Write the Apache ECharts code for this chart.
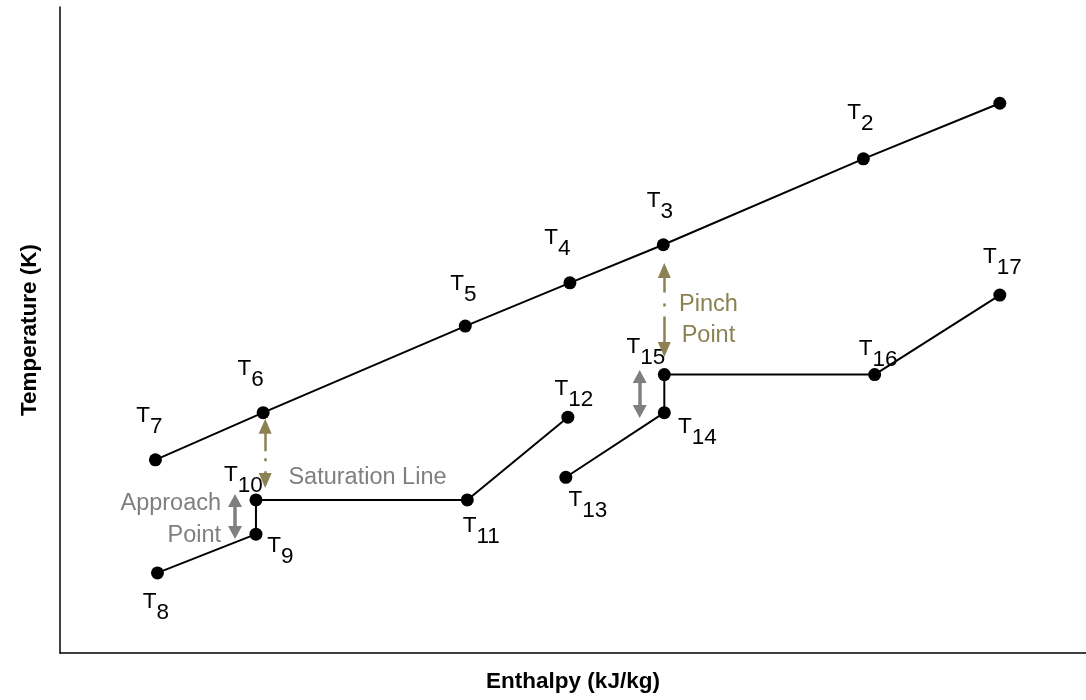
<!DOCTYPE html>
<html>
<head>
<meta charset="utf-8">
<script src="https://cdn.jsdelivr.net/npm/echarts@6/dist/echarts.min.js"></script>
<style>
  html, body { margin: 0; padding: 0; background: #fff; }
  #chart { width: 1086px; height: 700px; }
</style>
</head>
<body>
<div id="chart"></div>
<script>
// ---- data (enthalpy, temperature in relative units) ----
// hot stream: T7 -> T1
const hotX = [9.3, 19.8, 39.5, 49.7, 58.8, 78.3, 91.6];
const hotY = [29.9, 37.2, 50.6, 57.3, 63.2, 76.5, 85.1];
const hotSub = ['7', '6', '5', '4', '3', '2', ''];
// cold stream part 1: T8 -> T12
const cold1X = [9.5, 19.1, 19.1, 39.7, 49.5];
const cold1Y = [12.4, 18.4, 23.7, 23.7, 36.5];
const cold1Sub = ['8', '9', '10', '11', '12'];
// cold stream part 2: T13 -> T17
const cold2X = [49.3, 58.9, 58.9, 79.4, 91.6];
const cold2Y = [27.2, 37.2, 43.1, 43.1, 55.4];
const cold2Sub = ['13', '14', '15', '16', '17'];
// annotation arrows (x, yFrom, yTo)
const pinchArrow = [58.9, 59.2, 47.0];
const satArrow = [20.0, 35.1, 26.7];
const approachArrow = [17.06, 23.6, 18.65];
const approach2Arrow = [56.5, 42.8, 37.4];
// annotation texts
const satText = { text: 'Saturation Line', x: 29.97, y: 27.1 };
const pinchText = { text: 'Pinch\nPoint', x: 63.2, y: 51.5 };
const approachText = { text: 'Approach\nPoint', x: 15.7, y: 20.7 };

// ---- label placement (pixels) ----
const labelOffsets = {
  '2': [-3, -40.5], '3': [-3.5, -38.5], '4': [-12.5, -40], '5': [-2, -37],
  '6': [-12.5, -38.5], '7': [-6, -38.5], '8': [-1.5, 34.5], '9': [24.5, 17.5],
  '10': [-12.5, -19.5], '11': [14, 31.5], '12': [6, -22.5], '13': [22, 28.5],
  '14': [33, 19.5], '15': [-18.5, -22.5], '16': [3.5, -20.5], '17': [2.5, -32.5]
};

const FONT = 'Liberation Sans, Arial, sans-serif';
const OLIVE = '#8B8153';
const GRAY = '#7F7F7F';

function buildData(xs, ys, subs) {
  return xs.map((x, i) => {
    const s = subs[i];
    const item = { value: [x, ys[i]] };
    if (s) {
      item.label = {
        show: true,
        position: 'inside',
        offset: labelOffsets[s],
        formatter: '{a|T}{b|' + s + '}'
      };
    } else {
      item.label = { show: false };
    }
    return item;
  });
}

const richStyle = {
  a: { fontFamily: FONT, fontSize: 22.5, color: '#000', lineHeight: 23, verticalAlign: 'top' },
  b: { fontFamily: FONT, fontSize: 22.5, color: '#000', lineHeight: 34, verticalAlign: 'bottom' }
};

function lineSeries(name, xs, ys, subs) {
  return {
    name: name,
    type: 'line',
    data: buildData(xs, ys, subs),
    symbol: 'circle',
    symbolSize: 13,
    itemStyle: { color: '#000' },
    lineStyle: { color: '#000', width: 2 },
    label: { show: false, rich: richStyle, align: 'center', verticalAlign: 'middle' },
    emphasis: { disabled: true },
    silent: true,
    z: 3
  };
}

function arrowItem(a, color, width, dash, size) {
  return [
    { coord: [a[0], a[1]], symbol: 'triangle', symbolSize: size,
      lineStyle: { color: color, width: width, type: dash }, itemStyle: { color: color } },
    { coord: [a[0], a[2]], symbol: 'triangle', symbolSize: size, itemStyle: { color: color } }
  ];
}

const chart = echarts.init(document.getElementById('chart'), null, { renderer: 'canvas' });
const option = {
  animation: false,
  backgroundColor: '#fff',
  grid: { left: 60, right: 0, top: 7, bottom: 47, containLabel: false },
  xAxis: {
    type: 'value', min: 0, max: 100,
    name: 'Enthalpy (kJ/kg)', nameLocation: 'middle', nameGap: 17,
    nameTextStyle: { fontFamily: FONT, fontSize: 22.5, fontWeight: 'bold', color: '#000' },
    axisLine: { show: true, lineStyle: { color: '#000', width: 1.5 } },
    axisTick: { show: false }, axisLabel: { show: false }, splitLine: { show: false }
  },
  yAxis: {
    type: 'value', min: 0, max: 100,
    name: 'Temperature (K)', nameLocation: 'middle', nameGap: 19, nameRotate: 90,
    nameTextStyle: { fontFamily: FONT, fontSize: 22.5, fontWeight: 'bold', color: '#000' },
    axisLine: { show: true, lineStyle: { color: '#000', width: 1.5 } },
    axisTick: { show: false }, axisLabel: { show: false }, splitLine: { show: false }
  },
  series: [
    lineSeries('hot', hotX, hotY, hotSub),
    lineSeries('cold1', cold1X, cold1Y, cold1Sub),
    lineSeries('cold2', cold2X, cold2Y, cold2Sub),
    {
      name: 'annotations',
      type: 'line',
      data: [],
      silent: true,
      markLine: {
        silent: true,
        animation: false,
        label: { show: false },
        emphasis: { disabled: true },
        data: [
          arrowItem(pinchArrow, OLIVE, 2.5, [22, 11, 3, 10, 40, 10], [13, 15]),
          arrowItem(satArrow, OLIVE, 2.5, [25, 7, 3, 10, 40, 10], [13, 15]),
          arrowItem(approachArrow, GRAY, 3.5, 'solid', [14, 13]),
          arrowItem(approach2Arrow, GRAY, 3.5, 'solid', [14, 13])
        ]
      },
      markPoint: {
        silent: true,
        symbol: 'circle',
        symbolSize: 0,
        animation: false,
        data: [
          { coord: [satText.x, satText.y], label: { show: true, position: 'inside', formatter: satText.text,
            fontFamily: FONT, fontSize: 23.5, color: GRAY, align: 'center', verticalAlign: 'middle' } },
          { coord: [pinchText.x, pinchText.y], label: { show: true, position: 'inside', formatter: pinchText.text,
            fontFamily: FONT, fontSize: 23.5, lineHeight: 31, color: OLIVE, align: 'center', verticalAlign: 'middle' } },
          { coord: [approachText.x, approachText.y], label: { show: true, position: 'inside', formatter: approachText.text,
            fontFamily: FONT, fontSize: 23.5, lineHeight: 32, color: GRAY, align: 'right', verticalAlign: 'middle' } }
        ]
      }
    }
  ]
};
chart.setOption(option);
</script>
</body>
</html>
